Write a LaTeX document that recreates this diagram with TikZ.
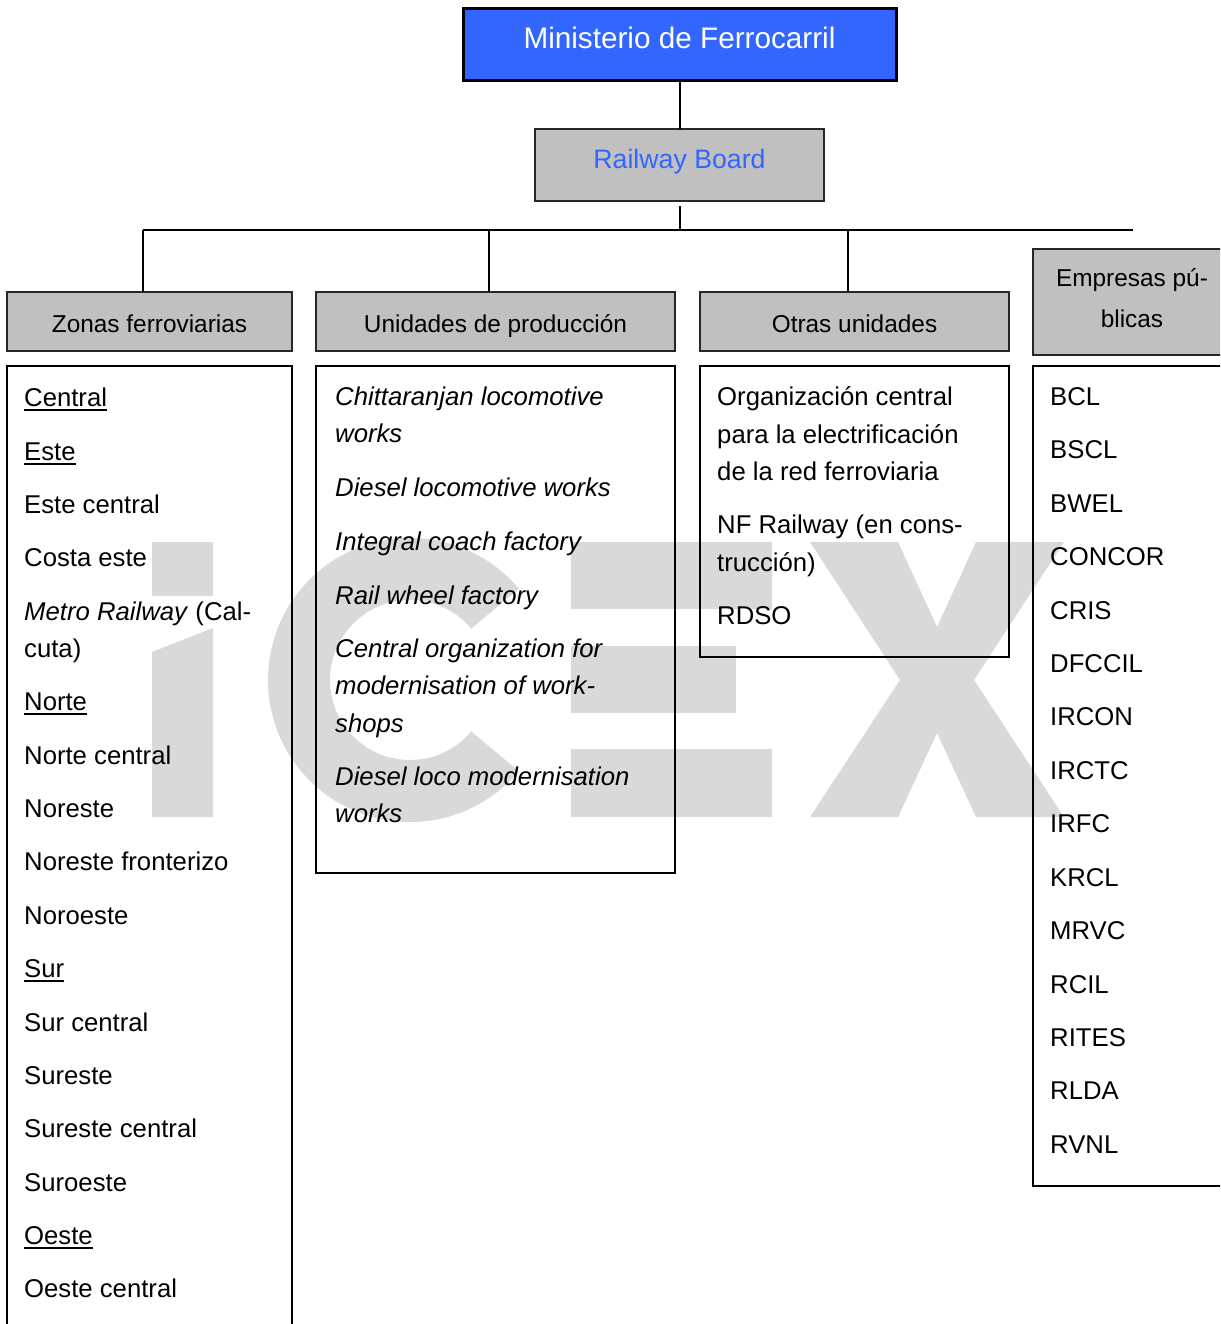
\documentclass[tikz,border=0pt]{standalone}
\usepackage{fontspec}
\setmainfont{Liberation Sans}
\definecolor{minblue}{RGB}{51,102,255}
\definecolor{hdrgray}{RGB}{192,192,192}
\definecolor{wmgray}{RGB}{217,217,217}
\newcommand\myul[1]{\setbox0\hbox{#1}\rlap{\rule[-4.5pt]{\wd0}{1.8pt}}\box0}
\tikzset{
  boxline/.style={draw=black, line width=2pt},
  framebox/.style={boxline, anchor=north west, inner sep=0pt, outer sep=0pt},
  hdrbox/.style={framebox, fill=hdrgray, draw=black!85},
  txt/.style={anchor=base west, inner sep=0pt, font=\fontsize{25.7pt}{30pt}\selectfont},
  itx/.style={anchor=base west, inner sep=0pt, font=\fontsize{25.7pt}{30pt}\selectfont\itshape},
  hdrtxt/.style={anchor=base, inner sep=0pt, font=\fontsize{24.4pt}{29pt}\selectfont},
  conn/.style={draw=black, line width=2pt},
  wm/.style={fill=wmgray}
}
\begin{document}
\begin{tikzpicture}[x=1pt,y=-1pt]
\useasboundingbox (0,0) rectangle (1220,1324);
\clip (0,0) rectangle (1220,1324);
\fill[white] (0,0) rectangle (1220,1324);

% watermark
\fill[wm] (152,542) rectangle (213,596);
\fill[wm] (152,652) -- (213,628) -- (213,817) -- (152,817) -- cycle;
\begin{scope}[shift={(410,680)}, x=1pt, y=1pt]
  \fill[wm] (40:142) arc[start angle=40, end angle=320, radius=142] -- (320:80) arc[start angle=320, end angle=40, radius=80] -- cycle;
\end{scope}
\fill[wm] (571,542) rectangle (772,609);
\fill[wm] (571,646) rectangle (736,713);
\fill[wm] (571,749) rectangle (772,817);
\fill[wm] (810,542) -- (898,542) -- (937,627) -- (976,542) -- (1064,542) -- (974,680) -- (1064,817) -- (976,817) -- (937,733) -- (898,817) -- (810,817) -- (900,680) -- cycle;

% boxes
\node[framebox, fill=minblue, line width=3pt, minimum width=433pt, minimum height=72pt] (min) at (463,9) {};
\node[hdrbox, minimum width=289pt, minimum height=72pt] (board) at (535,129) {};
\node[hdrbox, minimum width=285pt, minimum height=59pt] (zonas) at (7,292) {};
\node[hdrbox, minimum width=359pt, minimum height=59pt] (unid) at (316,292) {};
\node[hdrbox, minimum width=309pt, minimum height=59pt] (otras) at (700,292) {};
\node[hdrbox, minimum width=198pt, minimum height=106pt] (empr) at (1033,249) {};
\node[framebox, minimum width=285pt, minimum height=990pt] (zc) at (7,366) {};
\node[framebox, minimum width=359pt, minimum height=507pt] (uc) at (316,366) {};
\node[framebox, minimum width=309pt, minimum height=291pt] (oc) at (700,366) {};
\node[framebox, minimum width=198pt, minimum height=820pt] (ec) at (1033,366) {};

% connectors
\coordinate (busL) at (143,230);
\coordinate (busR) at (1133,230);
\coordinate (busU) at (489,230);
\coordinate (busO) at (848,230);
\coordinate (boardOut) at (680,206);
\coordinate (busM) at (680,230);
\draw[conn] (min.south -| boardOut) -- (board.north -| boardOut);
\draw[conn] (boardOut) -- (busM);
\draw[conn] (busL) -- (busR);
\draw[conn] (busL) -- (busL |- zonas.north);
\draw[conn] (busU) -- (busU |- unid.north);
\draw[conn] (busO) -- (busO |- otras.north);

% box texts
\node[anchor=base, inner sep=0pt, font=\fontsize{29.7pt}{34pt}\selectfont, text=white] (tmin) at (679.5,49) {Ministerio de Ferrocarril};
\node[anchor=base, inner sep=0pt, font=\fontsize{26.7pt}{32pt}\selectfont, text=minblue] (tboard) at (679.5,169) {Railway Board};
\node[hdrtxt] (tz) at (149.5,332) {Zonas ferroviarias};
\node[hdrtxt] (tu) at (495.5,332) {Unidades de producción};
\node[hdrtxt] (to) at (854.5,332) {Otras unidades};
\node[hdrtxt] (te1) at (1132,287) {Empresas pú-};
\node[hdrtxt] (te2) at (1132,327) {blicas};

% Zonas ferroviarias
\node[txt] (z1) at (24,406) {\myul{Central}};
\node[txt] (z2) at (24,460) {\myul{Este}};
\node[txt] (z3) at (24,513) {Este central};
\node[txt] (z4) at (24,566) {Costa este};
\node[txt] (z5a) at (24,620) {\textit{Metro Railway} (Cal-};
\node[txt] (z5b) at (24,657) {cuta)};
\node[txt] (z6) at (24,710) {\myul{Norte}};
\node[txt] (z7) at (24,764) {Norte central};
\node[txt] (z8) at (24,817) {Noreste};
\node[txt] (z9) at (24,870) {Noreste fronterizo};
\node[txt] (z10) at (24,924) {Noroeste};
\node[txt] (z11) at (24,977) {\myul{Sur}};
\node[txt] (z12) at (24,1031) {Sur central};
\node[txt] (z13) at (24,1084) {Sureste};
\node[txt] (z14) at (24,1137) {Sureste central};
\node[txt] (z15) at (24,1191) {Suroeste};
\node[txt] (z16) at (24,1244) {\myul{Oeste}};
\node[txt] (z17) at (24,1297) {Oeste central};

% Unidades de produccion
\node[itx] (u1a) at (335,405) {Chittaranjan locomotive};
\node[itx] (u1b) at (335,442) {works};
\node[itx] (u2) at (335,496) {Diesel locomotive works};
\node[itx] (u3) at (335,550) {Integral coach factory};
\node[itx] (u4) at (335,604) {Rail wheel factory};
\node[itx] (u5a) at (335,657) {Central organization for};
\node[itx] (u5b) at (335,694) {modernisation of work-};
\node[itx] (u5c) at (335,732) {shops};
\node[itx] (u6a) at (335,785) {Diesel loco modernisation};
\node[itx] (u6b) at (335,822) {works};

% Otras unidades
\node[txt] (o1a) at (717,405) {Organización central};
\node[txt] (o1b) at (717,443) {para la electrificación};
\node[txt] (o1c) at (717,480) {de la red ferroviaria};
\node[txt] (o2a) at (717,533) {NF Railway (en cons-};
\node[txt] (o2b) at (717,571) {trucción)};
\node[txt] (o3) at (717,624) {RDSO};

% Empresas publicas
\node[txt] (e1) at (1050,405) {BCL};
\node[txt] (e2) at (1050,458) {BSCL};
\node[txt] (e3) at (1050,512) {BWEL};
\node[txt] (e4) at (1050,565) {CONCOR};
\node[txt] (e5) at (1050,619) {CRIS};
\node[txt] (e6) at (1050,672) {DFCCIL};
\node[txt] (e7) at (1050,725) {IRCON};
\node[txt] (e8) at (1050,779) {IRCTC};
\node[txt] (e9) at (1050,832) {IRFC};
\node[txt] (e10) at (1050,886) {KRCL};
\node[txt] (e11) at (1050,939) {MRVC};
\node[txt] (e12) at (1050,993) {RCIL};
\node[txt] (e13) at (1050,1046) {RITES};
\node[txt] (e14) at (1050,1099) {RLDA};
\node[txt] (e15) at (1050,1153) {RVNL};
\end{tikzpicture}
\end{document}
